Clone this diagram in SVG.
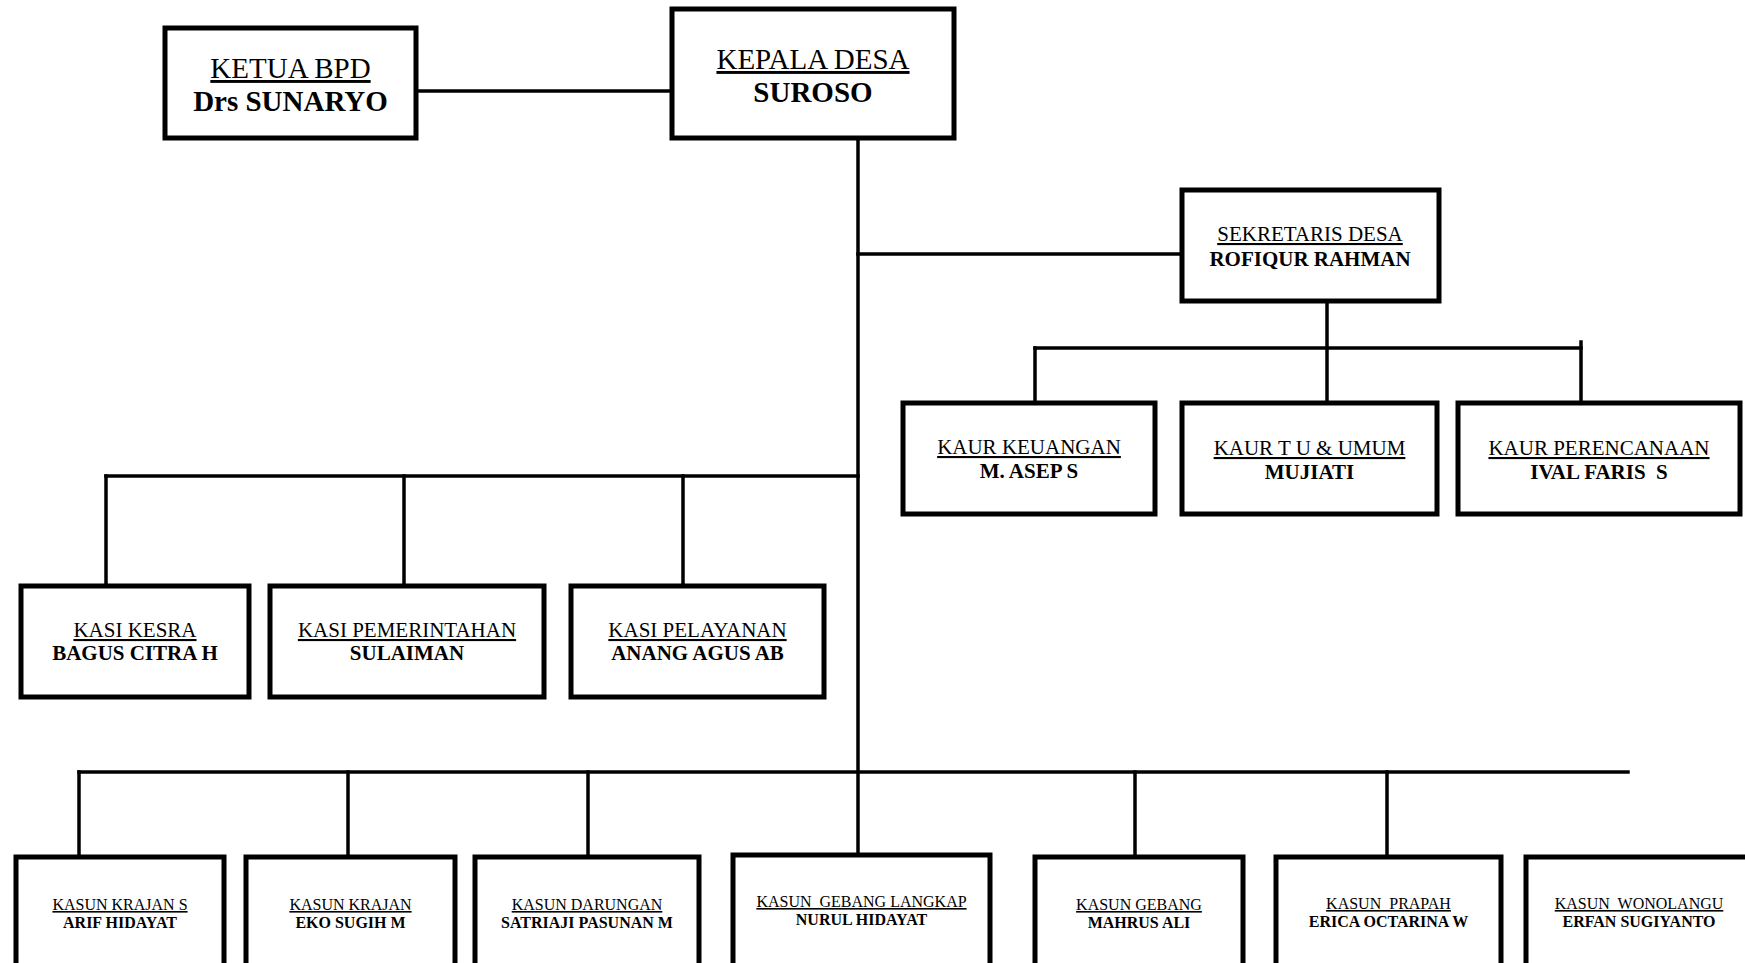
<svg xmlns="http://www.w3.org/2000/svg" width="1745" height="963" viewBox="0 0 1745 963">
<style>
.box{fill:#fff;stroke:#000;stroke-width:5}
.c{stroke:#000;stroke-width:3.5;fill:none;stroke-linecap:square}
text{font-family:"Liberation Serif","Times New Roman",serif;fill:#000;text-anchor:middle}
.t{text-decoration:underline}
.n{font-weight:bold}
.L{font-size:29px}
.M{font-size:21px}
.S{font-size:16px}
</style>
<rect width="1745" height="963" fill="#fff"/>
<g id="connectors">
<line class="c" x1="416" y1="91" x2="672" y2="91"/>
<line class="c" x1="858" y1="138" x2="858" y2="857"/>
<line class="c" x1="858" y1="254" x2="1182" y2="254"/>
<line class="c" x1="1327" y1="301" x2="1327" y2="403"/>
<line class="c" x1="1035" y1="348" x2="1581" y2="348"/>
<line class="c" x1="1035" y1="348" x2="1035" y2="403"/>
<line class="c" x1="1581" y1="342" x2="1581" y2="403"/>
<line class="c" x1="106" y1="476" x2="858" y2="476"/>
<line class="c" x1="106" y1="476" x2="106" y2="586"/>
<line class="c" x1="404" y1="476" x2="404" y2="586"/>
<line class="c" x1="683" y1="476" x2="683" y2="586"/>
<line class="c" x1="79" y1="772" x2="1628" y2="772"/>
<line class="c" x1="79" y1="772" x2="79" y2="857"/>
<line class="c" x1="348" y1="772" x2="348" y2="857"/>
<line class="c" x1="588" y1="772" x2="588" y2="857"/>
<line class="c" x1="1135" y1="772" x2="1135" y2="857"/>
<line class="c" x1="1387" y1="772" x2="1387" y2="857"/>
</g>
<g id="ketua-bpd">
<rect class="box" x="165" y="28" width="251" height="110"/>
<text class="L t" x="290.5" y="78">KETUA BPD</text>
<text class="L n" x="290.5" y="111">Drs SUNARYO</text>
</g>
<g id="kepala-desa">
<rect class="box" x="672" y="9" width="282" height="129"/>
<text class="L t" x="813" y="69">KEPALA DESA</text>
<text class="L n" x="813" y="102">SUROSO</text>
</g>
<g id="sekretaris-desa">
<rect class="box" x="1182" y="190" width="257" height="111"/>
<text class="M t" x="1310" y="241">SEKRETARIS DESA</text>
<text class="M n" x="1310" y="266">ROFIQUR RAHMAN</text>
</g>
<g id="kaur-keuangan">
<rect class="box" x="903" y="403" width="252" height="111"/>
<text class="M t" x="1029" y="454">KAUR KEUANGAN</text>
<text class="M n" x="1029" y="478">M. ASEP S</text>
</g>
<g id="kaur-tu-umum">
<rect class="box" x="1182" y="403" width="255" height="111"/>
<text class="M t" x="1309.5" y="455">KAUR T U &amp; UMUM</text>
<text class="M n" x="1309.5" y="479">MUJIATI</text>
</g>
<g id="kaur-perencanaan">
<rect class="box" x="1458" y="403" width="282" height="111"/>
<text class="M t" x="1599" y="455">KAUR PERENCANAAN</text>
<text class="M n" x="1599" y="479" xml:space="preserve">IVAL FARIS  S</text>
</g>
<g id="kasi-kesra">
<rect class="box" x="21" y="586" width="228" height="111"/>
<text class="M t" x="135" y="637">KASI KESRA</text>
<text class="M n" x="135" y="660">BAGUS CITRA H</text>
</g>
<g id="kasi-pemerintahan">
<rect class="box" x="270" y="586" width="274" height="111"/>
<text class="M t" x="407" y="637">KASI PEMERINTAHAN</text>
<text class="M n" x="407" y="660">SULAIMAN</text>
</g>
<g id="kasi-pelayanan">
<rect class="box" x="571" y="586" width="253" height="111"/>
<text class="M t" x="697.5" y="637">KASI PELAYANAN</text>
<text class="M n" x="697.5" y="660">ANANG AGUS AB</text>
</g>
<g id="kasun-krajan-s">
<rect class="box" x="16" y="857" width="208" height="130"/>
<text class="S t" x="120" y="910">KASUN KRAJAN S</text>
<text class="S n" x="120" y="928">ARIF HIDAYAT</text>
</g>
<g id="kasun-krajan">
<rect class="box" x="246" y="857" width="209" height="130"/>
<text class="S t" x="350.5" y="910">KASUN KRAJAN</text>
<text class="S n" x="350.5" y="928">EKO SUGIH M</text>
</g>
<g id="kasun-darungan">
<rect class="box" x="475" y="857" width="224" height="130"/>
<text class="S t" x="587" y="910">KASUN DARUNGAN</text>
<text class="S n" x="587" y="928">SATRIAJI PASUNAN M</text>
</g>
<g id="kasun-gebang-langkap">
<rect class="box" x="733" y="855" width="257" height="130"/>
<text class="S t" x="861.5" y="907" xml:space="preserve">KASUN  GEBANG LANGKAP</text>
<text class="S n" x="861.5" y="925">NURUL HIDAYAT</text>
</g>
<g id="kasun-gebang">
<rect class="box" x="1035" y="857" width="208" height="130"/>
<text class="S t" x="1139" y="910">KASUN GEBANG</text>
<text class="S n" x="1139" y="928">MAHRUS ALI</text>
</g>
<g id="kasun-prapah">
<rect class="box" x="1276" y="857" width="225" height="130"/>
<text class="S t" x="1388.5" y="909" xml:space="preserve">KASUN  PRAPAH</text>
<text class="S n" x="1388.5" y="927">ERICA OCTARINA W</text>
</g>
<g id="kasun-wonolangu">
<rect class="box" x="1526" y="857" width="240" height="130"/>
<text class="S t" x="1639" y="909" xml:space="preserve">KASUN  WONOLANGU</text>
<text class="S n" x="1639" y="927">ERFAN SUGIYANTO</text>
</g>
</svg>
